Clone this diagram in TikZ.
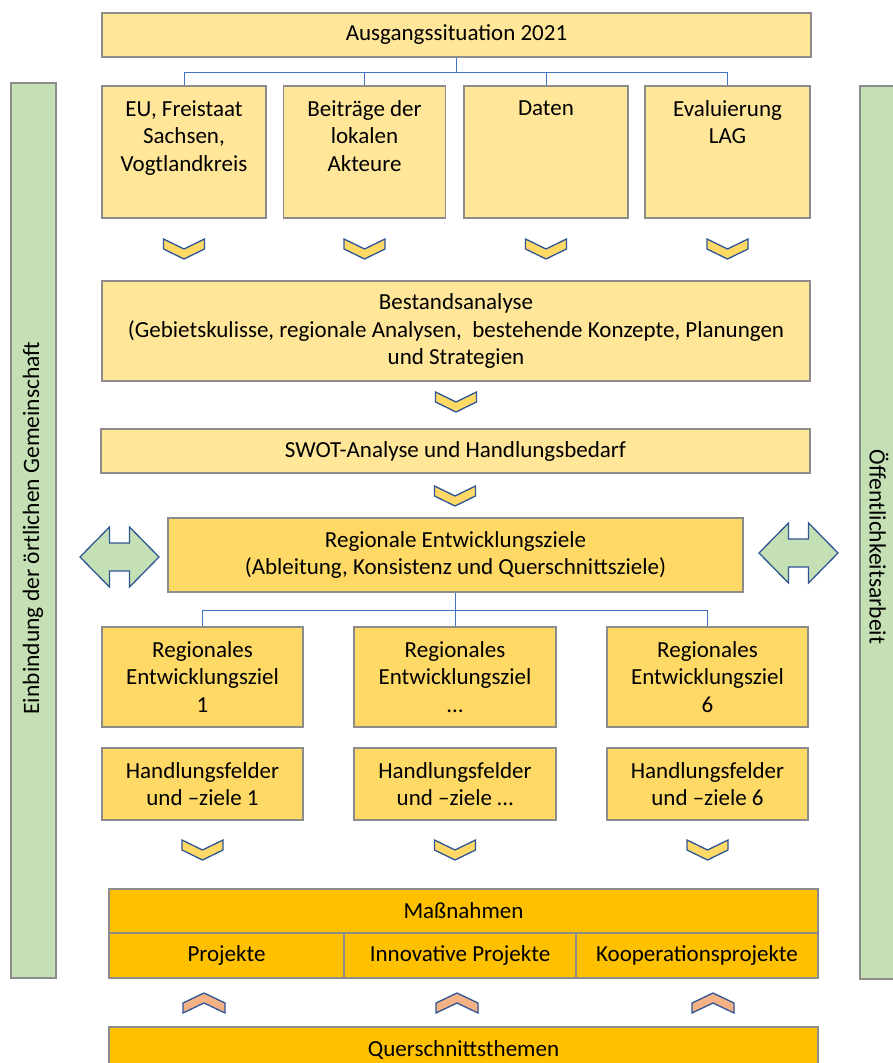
\documentclass[tikz,border=0pt]{standalone}
\usepackage{fontspec}
\setmainfont{Carlito}
\definecolor{lightyellow}{HTML}{FFE699}
\definecolor{midyellow}{HTML}{FFD966}
\definecolor{darkorange}{HTML}{FFC000}
\definecolor{lightgreen}{HTML}{C5E0B4}
\definecolor{peach}{HTML}{F4B183}
\definecolor{linkblue}{HTML}{4472C4}
\definecolor{chevblue}{HTML}{2F5597}
\definecolor{boxgray}{HTML}{8C8C8C}
\tikzset{
  box/.style={draw=boxgray, line width=1.5pt, fill=lightyellow, inner sep=0pt, align=center},
  midbox/.style={box, fill=midyellow},
  orangebox/.style={box, fill=darkorange},
  sidebar/.style={draw=boxgray, line width=1.5pt, fill=lightgreen, inner sep=0pt},
  sidetext/.style={font=\fontsize{23.5}{27.5}\selectfont},
  toplabel/.style={anchor=north, align=center, inner sep=0pt, yshift=-15pt},
  tree/.style={draw=linkblue, line width=1pt},
  chevdown/.style={draw=chevblue, line width=1.3pt, fill=midyellow, line join=miter},
  chevup/.style={draw=chevblue, line width=1.3pt, fill=peach, line join=miter},
  dblarrow/.style={draw=chevblue, line width=1.3pt, fill=lightgreen, line join=miter}
}
\begin{document}
\begin{tikzpicture}[x=1pt,y=-1pt,font=\fontsize{23}{27.5}\selectfont]
\useasboundingbox (0,0) rectangle (893,1063);
\clip (0,0) rectangle (893,1063);

\node[sidebar, minimum width=45, minimum height=895] (einb) at (33.5,530.5) {};
\node[sidetext, rotate=90] (einbtext) at (33,528) {Einbindung der örtlichen Gemeinschaft};
\node[sidebar, minimum width=45, minimum height=893] (oeff) at (882.5,532.5) {};
\node[sidetext, rotate=-90] (oefftext) at (879,547) {Öffentlichkeitsarbeit};

\node[box, minimum width=709, minimum height=44] (aus) at (456.5,35) {Ausgangssituation 2021};

\node[box, minimum width=164, minimum height=132, label={[toplabel]north:EU, Freistaat\\Sachsen,\\Vogtlandkreis}] (eu) at (184,152) {};
\node[box, minimum width=162, minimum height=132, label={[toplabel]north:Beiträge der\\lokalen\\Akteure}] (beitr) at (364.5,152) {};
\node[box, minimum width=164, minimum height=132, label={[toplabel]north:Daten}] (daten) at (546,152) {};
\node[box, minimum width=165, minimum height=132, label={[toplabel]north:Evaluierung\\LAG}] (eval) at (727.5,152) {};

\path (aus.south) ++(0,15) coordinate (j1);
\draw[tree] (aus.south) -- (j1);
\foreach \n in {eu,beitr,daten,eval}
  \draw[tree] (j1) -| (\n.north);

\foreach \x in {184,364.5,546,727.5}
  \draw[chevdown] (\x,249) ++(-20.5,-10) -- ++(20.5,10) -- ++(20.5,-10) -- ++(0,10) -- ++(-20.5,10) -- ++(-20.5,-10) -- cycle;

\node[box, minimum width=708, minimum height=100] (best) at (456,331) {Bestandsanalyse\\(Gebietskulisse, regionale Analysen,\ \ bestehende Konzepte, Planungen\\und Strategien};

\draw[chevdown] (456,402) ++(-20.5,-10) -- ++(20.5,10) -- ++(20.5,-10) -- ++(0,10) -- ++(-20.5,10) -- ++(-20.5,-10) -- cycle;

\node[box, minimum width=709, minimum height=44] (swot) at (455.5,451) {SWOT-Analyse und Handlungsbedarf};

\draw[chevdown] (455,496) ++(-20.5,-10) -- ++(20.5,10) -- ++(20.5,-10) -- ++(0,10) -- ++(-20.5,10) -- ++(-20.5,-10) -- cycle;

\node[midbox, minimum width=575, minimum height=74] (rez) at (455.5,555) {Regionale Entwicklungsziele\\(Ableitung, Konsistenz und Querschnittsziele)};

\foreach \cx/\cy in {119.5/557,798.5/553}
  \draw[dblarrow] (\cx,\cy) ++(-39.5,0) -- ++(29.5,-30) -- ++(0,16) -- ++(20,0) -- ++(0,-16) -- ++(29.5,30) -- ++(-29.5,30) -- ++(0,-16) -- ++(-20,0) -- ++(0,16) -- cycle;

\node[midbox, minimum width=201, minimum height=100] (rz1) at (202.5,677) {Regionales\\Entwicklungsziel\\1};
\node[midbox, minimum width=202, minimum height=100] (rz2) at (455,677) {Regionales\\Entwicklungsziel\\…};
\node[midbox, minimum width=201, minimum height=100] (rz6) at (707.5,677) {Regionales\\Entwicklungsziel\\6};

\path (rez.south) ++(0,18) coordinate (j2);
\draw[tree] (rez.south) -- (j2);
\foreach \n in {rz1,rz2,rz6}
  \draw[tree] (j2) -| (\n.north);

\node[midbox, minimum width=201, minimum height=72] (hf1) at (202.5,784) {Handlungsfelder\\und –ziele 1};
\node[midbox, minimum width=202, minimum height=72] (hf2) at (455,784) {Handlungsfelder\\und –ziele …};
\node[midbox, minimum width=201, minimum height=72] (hf6) at (707.5,784) {Handlungsfelder\\und –ziele 6};

\foreach \x in {202.5,455,707.5}
  \draw[chevdown] (\x,850) ++(-20.5,-10) -- ++(20.5,10) -- ++(20.5,-10) -- ++(0,10) -- ++(-20.5,10) -- ++(-20.5,-10) -- cycle;

\node[orangebox, minimum width=709, minimum height=44] (mass) at (463.5,911) {Maßnahmen};
\node[orangebox, minimum width=235, minimum height=45] (proj) at (226.5,955.5) {Projekte};
\node[orangebox, minimum width=232, minimum height=45] (inno) at (460,955.5) {Innovative Projekte};
\node[orangebox, minimum width=242, minimum height=45] (koop) at (697,955.5) {Kooperationsprojekte};

\foreach \x in {204,457,713}
  \draw[chevup] (\x,1003) ++(-21,10) -- ++(21,-10) -- ++(21,10) -- ++(0,-10) -- ++(-21,-10) -- ++(-21,10) -- cycle;

\node[orangebox, minimum width=709, minimum height=46] (quer) at (463.5,1050) {Querschnittsthemen};
\end{tikzpicture}
\end{document}
